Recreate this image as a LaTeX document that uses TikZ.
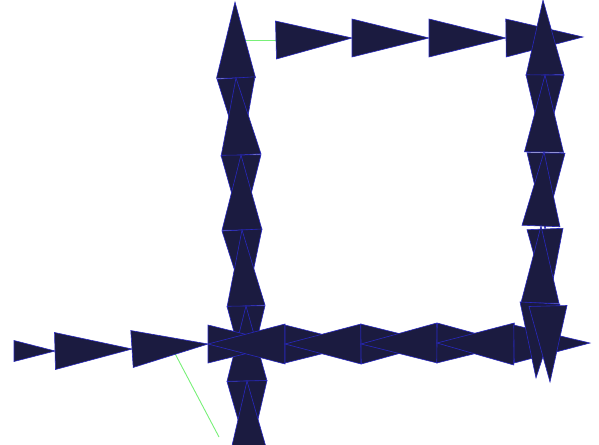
\documentclass[tikz,border=0pt]{standalone}
\usetikzlibrary{calc}
\definecolor{navyfill}{RGB}{27,27,64}
\definecolor{edgeblue}{RGB}{40,40,190}
\definecolor{linkgreen}{RGB}{120,240,120}
\tikzset{
  tri/.style={fill=navyfill, draw=edgeblue, line width=0.6pt, line join=miter},
  link/.style={draw=linkgreen, line width=0.9pt}
}
\newcommand\arrtri[3]{\draw[tri] ($(#1)!#3!90:(#2)$) -- ($(#1)!#3!-90:(#2)$) -- (#2) -- cycle;}
\begin{document}
\begin{tikzpicture}[x=1pt,y=-1pt]
\useasboundingbox (0,0) rectangle (599,444);
% top row
\coordinate (t1) at (276,40);
\coordinate (t2) at (352,38);
\coordinate (t3) at (429,38);
\coordinate (t4) at (506,38);
\coordinate (t5) at (583,37);
% left column
\coordinate (l0) at (235,2);
\coordinate (l1) at (236,78);
\coordinate (l2) at (241,155);
\coordinate (l3) at (242,230);
\coordinate (l4) at (246,306);
\coordinate (l5) at (247,381);
\coordinate (l6) at (249,458);
\coordinate (lg) at (236,40);
% bottom row
\coordinate (b0) at (14,351);
\coordinate (b1) at (55,351);
\coordinate (b2) at (132,349);
\coordinate (b3) at (208,344);
\coordinate (b4) at (285,344);
\coordinate (b5) at (361,344);
\coordinate (b6) at (437,343);
\coordinate (b7) at (514,344);
\coordinate (b8) at (590,343);
% right column
\coordinate (r0) at (543,0);
\coordinate (r1) at (545,75);
\coordinate (r2) at (544,152);
\coordinate (r2b) at (546,153);
\coordinate (r3) at (541,226);
\coordinate (r3b) at (545,229);
\coordinate (r4) at (540,303);
\coordinate (r4b) at (548,306);
\coordinate (r5) at (536,378);
\coordinate (r5b) at (550,382);
% green links
\coordinate (g1) at (171,346);
\coordinate (g2) at (219,437);
\draw[link] (lg) -- (t1);
\draw[link] (g1) -- (g2);
% top row triangles
\arrtri{t1}{t2}{19pt}
\arrtri{t2}{t3}{19pt}
\arrtri{t3}{t4}{19pt}
\arrtri{t4}{t5}{19pt}
% left column
\arrtri{l1}{l0}{19.5pt}
\arrtri{l1}{l2}{19pt}
\arrtri{l2}{l1}{20pt}
\arrtri{l2}{l3}{20pt}
\arrtri{l3}{l2}{20pt}
\arrtri{l3}{l4}{20pt}
\arrtri{l4}{l3}{19pt}
\arrtri{l4}{l5}{19pt}
\arrtri{l5}{l4}{20pt}
\arrtri{l5}{l6}{20pt}
\arrtri{l6}{l5}{20pt}
% right column
\arrtri{r1}{r0}{19pt}
\arrtri{r1}{r2}{19pt}
\arrtri{r2}{r1}{19.5pt}
\arrtri{r2b}{r3b}{19pt}
\arrtri{r3}{r2}{19pt}
\arrtri{r3b}{r4b}{18pt}
\arrtri{r4}{r3}{19pt}
% bottom row
\arrtri{b0}{b1}{10.5pt}
\arrtri{b1}{b2}{18.5pt}
\arrtri{b2}{b3}{18.5pt}
\arrtri{b3}{b4}{19pt}
\arrtri{b4}{b3}{20pt}
\arrtri{b4}{b5}{19pt}
\arrtri{b5}{b4}{20pt}
\arrtri{b5}{b6}{20pt}
\arrtri{b6}{b5}{20pt}
\arrtri{b6}{b7}{20pt}
\arrtri{b7}{b6}{21pt}
\arrtri{b7}{b8}{19pt}
% right column tips over bottom row
\arrtri{r4}{r5}{20pt}
\arrtri{r4b}{r5b}{19pt}
\end{tikzpicture}
\end{document}
